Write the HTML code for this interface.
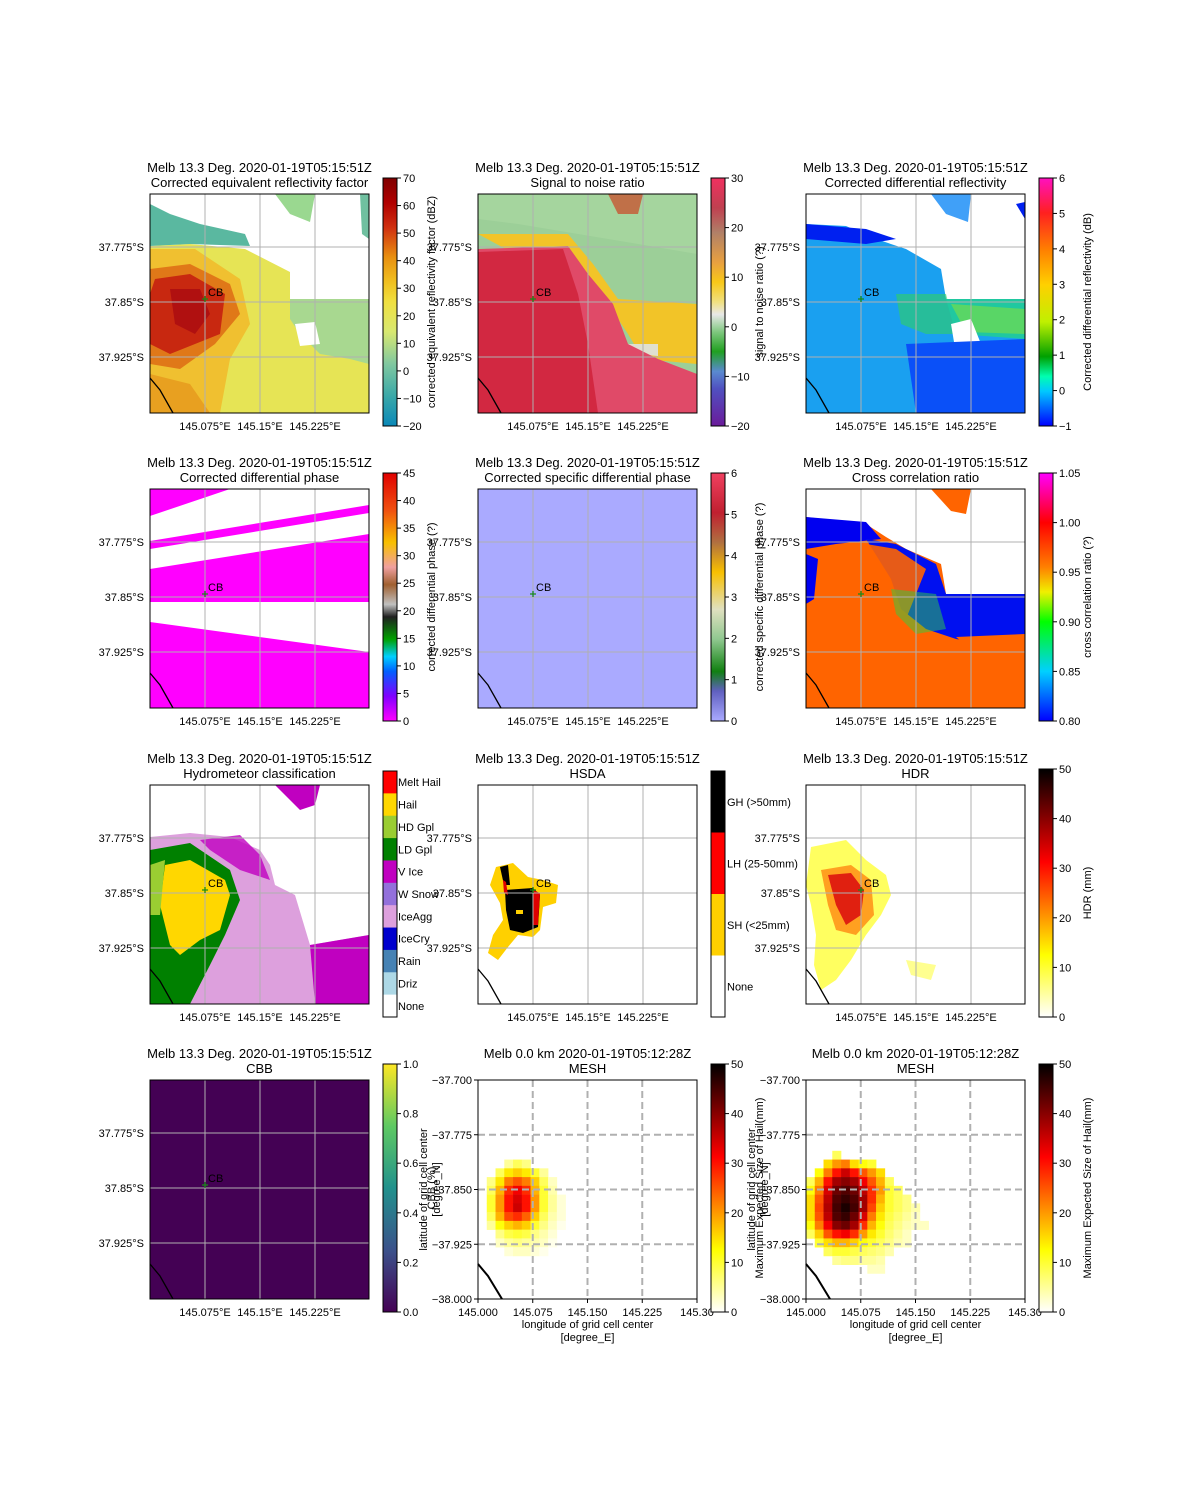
<!DOCTYPE html>
<html><head><meta charset="utf-8"><style>
html,body{margin:0;padding:0;background:#fff;}
svg{display:block;font-family:"Liberation Sans","DejaVu Sans",sans-serif;}
</style></head><body>
<svg id="fig" width="1200" height="1500" viewBox="0 0 1200 1500" xmlns="http://www.w3.org/2000/svg">
<defs>
<linearGradient id="gZ" x1="0" y1="1" x2="0" y2="0">
<stop offset="0" stop-color="#0a88b8"/><stop offset="0.12" stop-color="#3aa8a8"/><stop offset="0.25" stop-color="#80c8a0"/><stop offset="0.38" stop-color="#d8e870"/><stop offset="0.5" stop-color="#f0e040"/><stop offset="0.58" stop-color="#f0c020"/><stop offset="0.68" stop-color="#e89010"/><stop offset="0.8" stop-color="#d03010"/><stop offset="0.9" stop-color="#b00000"/><stop offset="1" stop-color="#800000"/></linearGradient>
<linearGradient id="gSNR" x1="0" y1="1" x2="0" y2="0">
<stop offset="0" stop-color="#6a1b9a"/><stop offset="0.15" stop-color="#5050c0"/><stop offset="0.22" stop-color="#5a8ad0"/><stop offset="0.3" stop-color="#20a020"/><stop offset="0.38" stop-color="#80c880"/><stop offset="0.45" stop-color="#e8e8e8"/><stop offset="0.5" stop-color="#f0e080"/><stop offset="0.58" stop-color="#f8c818"/><stop offset="0.66" stop-color="#e8a040"/><stop offset="0.78" stop-color="#b08068"/><stop offset="0.88" stop-color="#c04050"/><stop offset="1" stop-color="#f03060"/></linearGradient>
<linearGradient id="gZDR" x1="0" y1="1" x2="0" y2="0">
<stop offset="0" stop-color="#0000ff"/><stop offset="0.14" stop-color="#00c8ff"/><stop offset="0.2" stop-color="#00ffb0"/><stop offset="0.28" stop-color="#00a000"/><stop offset="0.42" stop-color="#c0f000"/><stop offset="0.57" stop-color="#ffd000"/><stop offset="0.71" stop-color="#ff8000"/><stop offset="0.86" stop-color="#ff2020"/><stop offset="1" stop-color="#ff10c0"/></linearGradient>
<linearGradient id="gPHI" x1="0" y1="1" x2="0" y2="0">
<stop offset="0" stop-color="#ff00ff"/><stop offset="0.1" stop-color="#8000ff"/><stop offset="0.2" stop-color="#0060ff"/><stop offset="0.26" stop-color="#00d0ff"/><stop offset="0.33" stop-color="#00a000"/><stop offset="0.42" stop-color="#202020"/><stop offset="0.47" stop-color="#c0c0c0"/><stop offset="0.55" stop-color="#a06030"/><stop offset="0.62" stop-color="#f0a0a0"/><stop offset="0.72" stop-color="#f8c000"/><stop offset="0.85" stop-color="#f05010"/><stop offset="1" stop-color="#e00000"/></linearGradient>
<linearGradient id="gKDP" x1="0" y1="1" x2="0" y2="0">
<stop offset="0" stop-color="#aaaaff"/><stop offset="0.12" stop-color="#6060c0"/><stop offset="0.2" stop-color="#108010"/><stop offset="0.33" stop-color="#90c890"/><stop offset="0.45" stop-color="#e0e0c0"/><stop offset="0.6" stop-color="#f8c000"/><stop offset="0.72" stop-color="#b07040"/><stop offset="0.84" stop-color="#c02030"/><stop offset="1" stop-color="#f04060"/></linearGradient>
<linearGradient id="gRHO" x1="0" y1="1" x2="0" y2="0">
<stop offset="0" stop-color="#0000ff"/><stop offset="0.2" stop-color="#00d0ff"/><stop offset="0.4" stop-color="#00ff00"/><stop offset="0.52" stop-color="#f0f000"/><stop offset="0.62" stop-color="#ff8000"/><stop offset="0.8" stop-color="#ff0000"/><stop offset="1" stop-color="#ff00ff"/></linearGradient>
<linearGradient id="gHOT" x1="0" y1="1" x2="0" y2="0">
<stop offset="0" stop-color="#ffffff"/><stop offset="0.25" stop-color="#ffff00"/><stop offset="0.625" stop-color="#ff0000"/><stop offset="1" stop-color="#000000"/></linearGradient>
<linearGradient id="gVIR" x1="0" y1="1" x2="0" y2="0">
<stop offset="0" stop-color="#440154"/><stop offset="0.25" stop-color="#3b528b"/><stop offset="0.5" stop-color="#21918c"/><stop offset="0.75" stop-color="#5ec962"/><stop offset="1" stop-color="#fde725"/></linearGradient>
<clipPath id="clipAx"><rect x="0" y="0" width="219" height="219"/></clipPath>
</defs>

<!-- Panel 1: reflectivity -->
<g transform="translate(150,194)" clip-path="url(#clipAx)">
<path d="M0,52 L40,50 L95,55 L140,78 L140,105 L219,105 L219,219 L0,219 Z" fill="#e6e455"/>
<path d="M140,105 L219,105 L219,170 L200,165 L170,160 L150,140 L140,125Z" fill="#a8d890"/>
<path d="M145,130 L165,128 L170,150 L150,152Z" fill="#fff"/>
<path d="M0,10 L20,20 L50,30 L95,40 L100,52 L40,50 L0,52Z" fill="#5ab8a0"/>
<path d="M125,0 L165,0 L160,28 L140,20Z" fill="#9ad890"/>
<path d="M210,0 L219,0 L219,45 L212,40Z" fill="#70c0a0"/>
<path d="M0,55 L45,55 L90,85 L100,130 L80,165 L70,219 L0,219Z" fill="#f0c030"/>
<path d="M0,75 L40,70 L80,90 L90,120 L65,150 L30,175 L0,170Z" fill="#e07818"/>
<path d="M5,85 L40,80 L75,100 L70,140 L45,150 L20,160 L0,150 L0,100Z" fill="#c82810"/>
<path d="M20,95 L50,95 L60,120 L45,140 L25,130Z" fill="#b01010"/>
<path d="M0,180 L40,190 L60,219 L0,219Z" fill="#e8a020"/>
</g>
<!-- Panel 2: SNR -->
<g transform="translate(478,194)" clip-path="url(#clipAx)">
<rect width="219" height="219" fill="#9ccf98"/>
<path d="M0,0 L219,0 L219,60 L160,50 L100,40 L40,30 L0,25Z" fill="#a8d6a0" opacity="0.8"/>
<path d="M130,0 L165,0 L160,20 L140,20Z" fill="#c07048"/>
<path d="M0,40 L90,40 L115,70 L140,105 L219,110 L219,170 L165,165 L150,140 L130,110Z" fill="#f2c428"/>
<path d="M150,150 L180,150 L180,162 L155,160Z" fill="#e0e0d0"/>
<path d="M0,55 L90,52 L110,80 L135,110 L150,150 L180,165 L219,180 L219,219 L0,219Z" fill="#e04a68"/>
<path d="M0,58 L85,55 L100,100 L110,150 L120,219 L0,219Z" fill="#d22841"/>
</g>
<!-- Panel 3: ZDR -->
<g transform="translate(806,194)" clip-path="url(#clipAx)">
<path d="M0,30 L40,32 L70,45 L100,55 L135,75 L140,105 L219,105 L219,219 L0,219Z" fill="#1aa0f0"/>
<path d="M0,30 L60,35 L90,45 L60,50 L0,45Z" fill="#0020f0"/>
<path d="M90,100 L140,100 L150,140 L120,140 L95,130Z" fill="#30d060" opacity="0.6"/>
<path d="M140,105 L219,105 L219,145 L150,140Z" fill="#20c8a0"/>
<path d="M145,110 L219,115 L219,140 L160,138Z" fill="#80e040" opacity="0.6"/>
<path d="M145,130 L165,125 L175,150 L150,160Z" fill="#fff"/>
<path d="M100,150 L219,145 L219,219 L110,219Z" fill="#0a50f8"/>
<path d="M125,0 L165,0 L162,28 L140,20Z" fill="#40a0f8"/>
<path d="M210,10 L219,8 L219,25Z" fill="#0020f0"/>
</g>
<!-- Panel 4: PhiDP -->
<g transform="translate(150,489)" clip-path="url(#clipAx)">
<path d="M0,0 L80,0 L0,27Z" fill="#ff00ff"/>
<path d="M0,52 L219,16 L219,24 L0,60Z" fill="#ff00ff"/>
<path d="M0,80 L219,45 L219,113 L0,113Z" fill="#ff00ff"/>
<path d="M0,133 L219,163 L219,219 L0,219Z" fill="#ff00ff"/>
</g>
<!-- Panel 5: KDP -->
<g transform="translate(478,489)">
<rect width="219" height="219" fill="#aaaaff"/>
</g>
<!-- Panel 6: RhoHV -->
<g transform="translate(806,489)" clip-path="url(#clipAx)">
<path d="M0,28 L60,35 L80,48 L100,60 L135,75 L140,105 L219,105 L219,219 L0,219Z" fill="#ff6400"/>
<path d="M0,28 L60,33 L75,50 L30,55 L0,60Z" fill="#0000f0"/>
<path d="M60,50 L90,55 L130,75 L140,105 L219,105 L219,150 L180,155 L150,150 L120,140 L95,120 L85,90Z" fill="#0010f0"/>
<path d="M60,55 L90,60 L120,80 L100,130 L90,120 L80,95Z" fill="#ff6400" opacity="0.9"/>
<path d="M85,100 L130,105 L140,140 L110,145 L90,125Z" fill="#30d040" opacity="0.5"/>
<path d="M125,0 L165,0 L160,25 L145,22Z" fill="#ff6400"/>
<path d="M0,65 L12,70 L8,110 L0,115Z" fill="#0000f0"/>
<path d="M150,148 L219,145 L219,160 L165,160Z" fill="#ff6400"/>
</g>
<!-- Panel 7: HCA -->
<g transform="translate(150,785)" clip-path="url(#clipAx)">
<path d="M125,0 L170,0 L165,20 L150,25 Z" fill="#c000c0"/>
<path d="M0,52 L40,48 L80,52 L110,65 L120,80 L125,100 L145,110 L160,160 L219,150 L219,219 L0,219Z" fill="#dda0dd"/>
<path d="M50,55 L90,50 L110,70 L120,95 L90,85 L60,65Z" fill="#c000c0" opacity="0.8"/>
<path d="M160,160 L219,150 L219,219 L165,219Z" fill="#c000c0"/>
<path d="M0,65 L40,58 L80,85 L90,115 L75,150 L60,180 L40,219 L0,219Z" fill="#008000"/>
<path d="M15,80 L40,75 L75,95 L80,110 L70,145 L50,155 L30,170 L20,160 L10,120Z" fill="#ffd700"/>
<path d="M0,80 L15,75 L10,130 L0,130Z" fill="#9acd32"/>
</g>
<!-- Panel 8: HSDA -->
<g transform="translate(478,785)">
<path d="M18,82 L35,78 L50,92 L65,95 L80,100 L78,118 L65,122 L62,145 L55,152 L40,150 L30,162 L20,175 L10,168 L15,150 L25,135 L22,118 L12,100Z" fill="#ffd000"/>
<path d="M27,105 L55,103 L62,110 L60,142 L45,148 L32,145 L28,125Z" fill="#000"/>
<path d="M22,82 L30,80 L32,100 L26,100Z" fill="#000"/>
<path d="M25,95 L28,97 L30,110 L26,108Z" fill="#e00000"/>
<path d="M55,105 L62,108 L60,140 L55,140Z" fill="#e00000"/>
<rect x="38" y="125" width="7" height="4" fill="#ffd000"/>
</g>
<!-- Panel 9: HDR -->
<g transform="translate(806,785)" clip-path="url(#clipAx)">
<path d="M5,62 L40,55 L60,75 L80,90 L85,110 L75,130 L60,150 L45,175 L30,195 L15,205 L8,180 L10,150 L5,120 L0,100Z" fill="#ffff60"/>
<path d="M15,85 L45,80 L65,95 L68,130 L50,150 L30,145 L22,120Z" fill="#ffa020"/>
<path d="M22,90 L45,88 L58,105 L55,130 L40,140 L30,120Z" fill="#e02010"/>
<path d="M100,175 L130,180 L125,195 L105,190Z" fill="#ffff90"/>
</g>
<!-- Panel 10: CBB -->
<g transform="translate(150,1080)">
<rect width="219" height="219" fill="#440154"/>
</g>
<g id="meshL"></g>
<g id="meshR"></g>
<g id="frames"></g>
</svg>
<script>
// MESH data (mm) on a regular lon/lat grid
const meshLon0 = 145.0;
const meshLat0 = -37.797;
const meshStep = 0.012;
const meshLeftValues = [
[0,0,0,0,0,0,0,0,0,0],
[0,0,0,5,8,6,0,0,0,0],
[0,0,8,14,16,14,10,5,0,0],
[0,6,14,22,25,22,16,8,3,0],
[0,8,18,28,32,28,18,10,4,0],
[0,10,20,30,34,30,20,10,5,2],
[0,10,20,30,35,30,20,10,5,2],
[0,8,18,26,28,24,16,8,4,2],
[0,5,12,16,18,16,10,6,3,1],
[0,0,6,9,10,9,6,4,2,0],
[0,0,3,5,6,5,4,3,1,0],
[0,0,0,2,3,3,2,1,0,0]
];
const meshRightValues = [
[0,0,0,8,0,0,0,0,0,0,0,0,0,0],
[0,0,15,20,22,15,12,10,0,0,0,0,0,0],
[0,12,22,30,35,30,25,20,15,0,0,0,0,0],
[8,18,30,38,40,38,32,25,18,8,0,0,0,0],
[12,22,34,42,44,42,36,28,20,10,8,0,0,0],
[15,25,36,44,46,44,38,28,18,10,8,6,0,0],
[15,26,37,45,48,45,38,26,16,10,8,6,4,0],
[15,25,36,44,46,42,34,22,14,9,7,5,3,0],
[12,22,32,40,42,38,28,18,12,8,6,4,3,3],
[8,16,25,30,32,28,20,14,10,7,5,3,0,0],
[0,10,15,18,18,16,12,10,8,6,4,3,0,0],
[0,0,8,10,10,9,8,7,6,4,0,0,0,0],
[0,0,0,5,6,6,5,5,4,0,0,0,0,0],
[0,0,0,0,0,0,0,3,3,0,0,0,0,0]
];
const meshXTicks = ["145.000","145.075","145.150","145.225","145.30"];
const meshYTicks = ["\u221237.700","\u221237.775","\u221237.850","\u221237.925","\u221238.000"];
const radarXTicks = ["145.075°E","145.15°E","145.225°E"];
const radarYTicks = ["37.775°S","37.85°S","37.925°S"];

const NS="http://www.w3.org/2000/svg";
const svg=document.getElementById('fig');
function mk(tag,attrs,parent,txt){const e=document.createElementNS(NS,tag);for(const k in attrs)e.setAttribute(k,attrs[k]);if(txt!==undefined)e.textContent=txt;(parent||svg).appendChild(e);return e;}
const AX=[150,478,806], AY=[194,489,785,1080], S=219;
function lonX(ax,lon){return ax+(lon-145.0)/0.3*S;}
function latY(ay,lat){return ay+(-37.7-lat)/0.3*S;}
function hot(v){const t=Math.min(1,v/50);let r,g,b;
 if(t<0.25){r=255;g=255;b=255*(1-t/0.25);}else if(t<0.625){r=255;g=255*(1-(t-0.25)/0.375);b=0;}else{r=255*(1-(t-0.625)/0.375);g=0;b=0;}
 return `rgb(${r|0},${g|0},${b|0})`;}
function drawMesh(gid,vals,ax,ay){const g=document.getElementById(gid);
 vals.forEach((row,i)=>row.forEach((v,j)=>{if(v<=0)return;
  const x0=lonX(ax,meshLon0+j*meshStep),x1=lonX(ax,meshLon0+(j+1)*meshStep);
  const y0=latY(ay,meshLat0-i*meshStep),y1=latY(ay,meshLat0-(i+1)*meshStep);
  const r=mk('rect',{x:x0,y:y0,width:x1-x0+0.3,height:y1-y0+0.3,fill:hot(v)},g);
  
  
 }));}
drawMesh('meshL',meshLeftValues,AX[1],AY[3]);
drawMesh('meshR',meshRightValues,AX[2],AY[3]);

const fr=document.getElementById('frames');
const titles=[["Corrected equivalent reflectivity factor","Signal to noise ratio","Corrected differential reflectivity"],
["Corrected differential phase","Corrected specific differential phase","Cross correlation ratio"],
["Hydrometeor classification","HSDA","HDR"],["CBB","MESH","MESH"]];
for(let r=0;r<4;r++)for(let c=0;c<3;c++){
 const x=AX[c],y=AY[r];const mesh=(r===3&&c>0);
 // grid
 if(mesh){
  for(let k=1;k<4;k++){const gx=x+k*S/4;const l=mk('line',{x1:gx,y1:y,x2:gx,y2:y+S,stroke:'#b0b0b0','stroke-width':2,'stroke-dasharray':'7,4'},fr);
   const gy=y+k*S/4;const l2=mk('line',{x1:x,y1:gy,x2:x+S,y2:gy,stroke:'#b0b0b0','stroke-width':2,'stroke-dasharray':'7,4'},fr);}
  const cl=mk('path',{d:`M${x},${y+184} L${x+10},${y+196} L${x+24},${y+219}`,stroke:'#000','stroke-width':2,fill:'none'},fr);
  meshXTicks.forEach((t,k)=>{const tx=x+k*S/4;mk('line',{x1:tx,y1:y+S,x2:tx,y2:y+S+4,stroke:'#000'},fr);const e=mk('text',{x:tx,y:y+S+17,'font-size':11,'text-anchor':'middle'},fr,t);});
  meshYTicks.forEach((t,k)=>{const ty=y+k*S/4;mk('line',{x1:x-4,y1:ty,x2:x,y2:ty,stroke:'#000'},fr);const e=mk('text',{x:x-6,y:ty+4,'font-size':11,'text-anchor':'end'},fr,t);});
  const xl=mk('text',{x:x+S/2,y:y+S+29,'font-size':11,'text-anchor':'middle'},fr,'longitude of grid cell center');
  const xl2=mk('text',{x:x+S/2,y:y+S+42,'font-size':11,'text-anchor':'middle'},fr,'[degree_E]');
  const yl=mk('text',{transform:`translate(${x-51},${y+S/2}) rotate(-90)`,'font-size':11,'text-anchor':'middle'},fr,'latitude of grid cell center');
  const yl2=mk('text',{transform:`translate(${x-38},${y+S/2}) rotate(-90)`,'font-size':11,'text-anchor':'middle'},fr,'[degree_N]');
 } else {
  [55,110,165].forEach(d=>{mk('line',{x1:x+d,y1:y,x2:x+d,y2:y+S,stroke:'#b0b0b0','stroke-width':1},fr);mk('line',{x1:x,y1:y+d-2,x2:x+S,y2:y+d-2,stroke:'#b0b0b0','stroke-width':1},fr);});
  const cl=mk('path',{d:`M${x},${y+184} L${x+10},${y+196} L${x+23},${y+219}`,stroke:'#000','stroke-width':1.3,fill:'none'},fr);
  radarXTicks.forEach((t,k)=>{const e=mk('text',{x:x+55*(k+1),y:y+S+17,'font-size':11,'text-anchor':'middle'},fr,t);});
  radarYTicks.forEach((t,k)=>{const e=mk('text',{x:x-6,y:y+55*(k+1)+2,'font-size':11,'text-anchor':'end'},fr,t);});
  const mx=x+55,my=y+105;
  const m=mk('path',{d:`M${mx-3},${my} H${mx+3} M${mx},${my-3} V${my+3}`,stroke:'#1a8a1a','stroke-width':1.3},fr);
  const ct=mk('text',{x:mx+3,y:my-3,'font-size':11},fr,'CB');
 }
 const b=mk('rect',{x:x,y:y,width:S,height:S,fill:'none',stroke:'#000','stroke-width':1},fr);
 const l1=(r===3&&c>0)?'Melb 0.0 km 2020-01-19T05:12:28Z':'Melb 13.3 Deg. 2020-01-19T05:15:51Z';
 const t1=mk('text',{x:x+S/2,y:y-22,'font-size':13,'text-anchor':'middle'},fr,l1);
 const t2=mk('text',{x:x+S/2,y:y-7,'font-size':13,'text-anchor':'middle'},fr,titles[r][c]);
}

// colorbars
const CBX=[383,711,1039];
const cbs=[
 [0,0,'gZ',-20,70,[-20,-10,0,10,20,30,40,50,60,70],'corrected equivalent reflectivity factor (dBZ)'],
 [0,1,'gSNR',-20,30,[-20,-10,0,10,20,30],'signal to noise ratio (?)'],
 [0,2,'gZDR',-1,6,[-1,0,1,2,3,4,5,6],'Corrected differential reflectivity (dB)'],
 [1,0,'gPHI',0,45,[0,5,10,15,20,25,30,35,40,45],'corrected differential phase (?)'],
 [1,1,'gKDP',0,6,[0,1,2,3,4,5,6],'corrected specific differential phase (?)'],
 [1,2,'gRHO',0.8,1.05,[0.8,0.85,0.9,0.95,1.0,1.05],'cross correlation ratio (?)'],
 [2,2,'gHOT',0,50,[0,10,20,30,40,50],'HDR (mm)'],
 [3,0,'gVIR',0,1,[0,0.2,0.4,0.6,0.8,1.0],'CBB (%)'],
 [3,1,'gHOT',0,50,[0,10,20,30,40,50],'Maximum Expected Size of Hail(mm)'],
 [3,2,'gHOT',0,50,[0,10,20,30,40,50],'Maximum Expected Size of Hail(mm)']
];
function fmt(v,lo,hi){if(hi-lo<2)return v.toFixed(hi<=1.0001?1:2);return String(v);}
cbs.forEach(cb=>{const [r,c,g,lo,hi,ticks,lab]=cb;const x=CBX[c],y0=AY[r]-16,y1=AY[r]+S+13;
 const rc=mk('rect',{x:x,y:y0,width:14,height:y1-y0,fill:`url(#${g})`,stroke:'#000','stroke-width':1},fr);
 ticks.forEach(v=>{const ty=y1-(v-lo)/(hi-lo)*(y1-y0);mk('line',{x1:x+14,y1:ty,x2:x+18,y2:ty,stroke:'#000'},fr);
  const e=mk('text',{x:x+20,y:ty+4,'font-size':11},fr,fmt(v,lo,hi).replace('-','\u2212'));});
 const e=mk('text',{transform:`translate(${x+52},${(y0+y1)/2}) rotate(-90)`,'font-size':11,'text-anchor':'middle'},fr,lab);
});
// HCA discrete colorbar
const hcaNames=["Melt Hail","Hail","HD Gpl","LD Gpl","V Ice","W Snow","IceAgg","IceCry","Rain","Driz","None"];
const hcaColors=["#ff0000","#ffd700","#9acd32","#008000","#c000c0","#9370db","#dda0dd","#0000cd","#4682b4","#add8e6","#ffffff"];
{const x=383,y0=771,h=(1017-771)/11;hcaNames.forEach((n,i)=>{const rr=mk('rect',{x:x,y:y0+i*h,width:14,height:h+0.3,fill:hcaColors[i]},fr);
 const t=mk('text',{x:x+15,y:y0+i*h+h/2+4,'font-size':11},fr,n);});
 const b=mk('rect',{x:x,y:y0,width:14,height:1017-771,fill:'none',stroke:'#000'},fr);}
// HSDA discrete colorbar
const hsdaNames=["GH (>50mm)","LH (25-50mm)","SH (<25mm)","None"];
const hsdaColors=["#000000","#ff0000","#ffd000","#ffffff"];
{const x=711,y0=771,h=(1017-771)/4;hsdaNames.forEach((n,i)=>{const rr=mk('rect',{x:x,y:y0+i*h,width:14,height:h+0.3,fill:hsdaColors[i]},fr);
 const t=mk('text',{x:x+16,y:y0+i*h+h/2+4,'font-size':11},fr,n);});
 const b=mk('rect',{x:x,y:y0,width:14,height:1017-771,fill:'none',stroke:'#000'},fr);}
</script>
</body></html>
